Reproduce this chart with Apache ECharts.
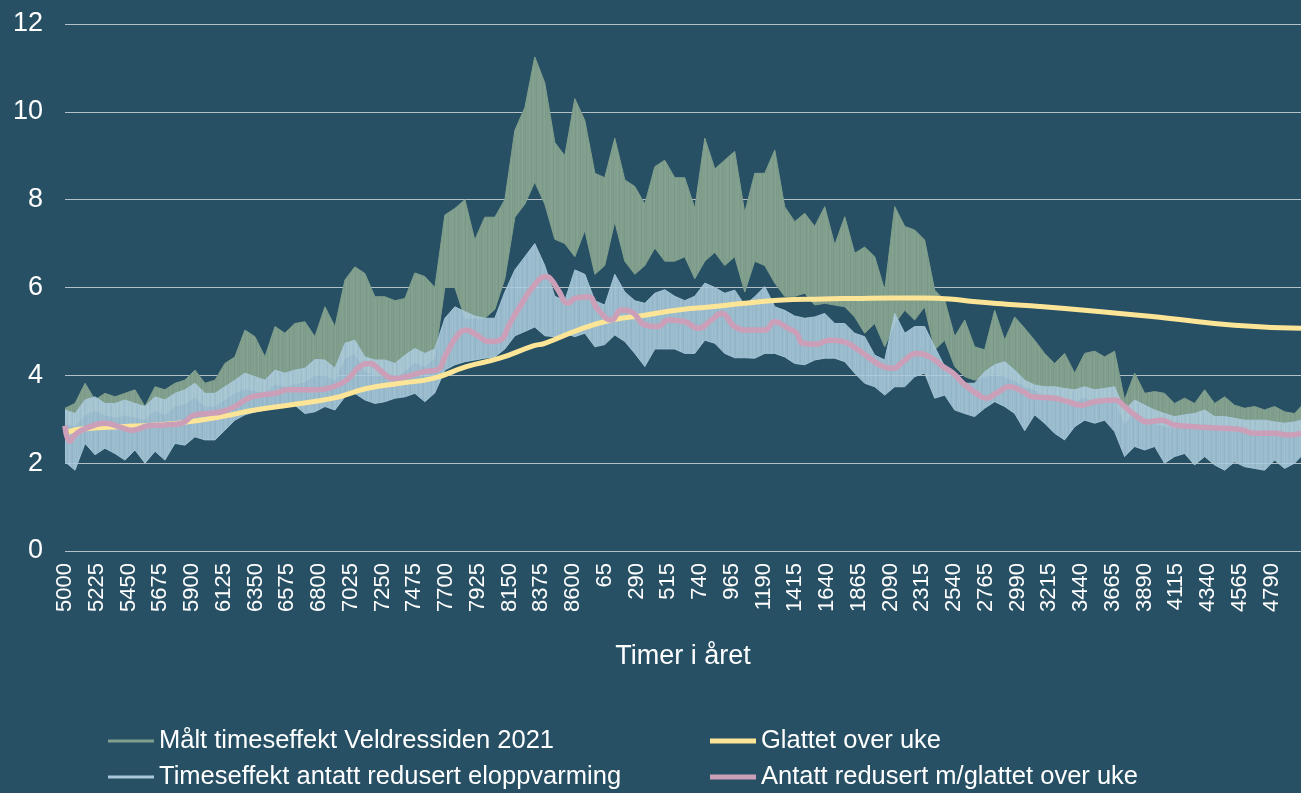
<!DOCTYPE html>
<html>
<head>
<meta charset="utf-8">
<script src="https://cdn.jsdelivr.net/npm/echarts@6/dist/echarts.min.js"></script>
<style>
  html,body{margin:0;padding:0;background:#275065;}
  #chart{width:1301px;height:793px;}
</style>
</head>
<body>
<div id="chart"></div>
<script>
// hour index since hour 5000 (wraps to 1 after 8760)
const HOURS = [0,71,142,213,283,354,425,496,567,638,708,779,850,921,992,1063,1133,1204,1275,1346,1417,1488,1558,1629,1700,
  1771,1842,1913,1984,2054,2125,2196,2267,2338,2409,2479,2550,
  2621,2692,2763,2834,2904,2975,3046,3117,3188,3259,3329,3400,3471,3542,3613,3684,3755,3825,3896,3967,4038,4109,4180,4250,4321,4392,4463,4534,4605,4675,4746,4817,4888,4959,5030,5100,5171,
  5242,5313,5384,5455,5526,5596,5667,5738,5809,5880,5951,6021,6092,6163,6234,6305,6376,6446,6517,6588,6659,6730,6801,6871,
  6942,7013,7084,7155,7226,7297,7367,7438,7509,7580,7651,7722,7792,7863,7934,8005,8076,8147,8218,8288,8359,8430,8501,8572,8643,8713,
  8759];

// measured (green) band, upper / lower edge
const greenHi = [3.25,3.36,3.82,3.44,3.59,3.51,3.59,3.67,3.29,3.74,3.67,3.82,3.89,4.12,3.82,3.89,4.27,4.42,5.03,4.88,4.42,5.11,4.96,5.18,5.22,
  4.88,5.56,5.11,6.17,6.47,6.32,5.79,5.79,5.7,5.75,6.33,6.25,
  6.0,7.65,7.8,8.0,7.08,7.6,7.6,8.0,9.58,10.1,11.25,10.66,9.3,9.0,10.3,9.8,8.6,8.5,9.4,8.45,8.3,7.9,8.75,8.9,8.5,8.5,7.8,9.4,8.7,8.9,9.1,7.7,8.6,8.6,9.13,7.84,7.5,
  7.69,7.39,7.84,6.97,7.61,6.78,6.92,6.7,5.94,7.84,7.39,7.31,7.08,5.94,5.71,4.88,5.26,4.65,4.58,5.48,4.8,5.33,5.07,4.8,
  4.5,4.27,4.5,4.05,4.5,4.55,4.42,4.55,3.44,4.05,3.59,3.63,3.59,3.36,3.48,3.36,3.67,3.36,3.51,3.32,3.25,3.29,3.21,3.29,3.17,3.13,
  3.29];
const greenLo = [2.9,2.85,3.1,3.2,3.1,3.05,3.1,3.05,3.0,3.2,3.1,3.3,3.35,3.5,3.3,3.3,3.45,3.6,3.7,3.65,3.6,3.8,3.75,3.8,3.85,
  4.0,4.0,3.9,4.4,4.5,4.1,4.0,4.0,3.95,4.1,4.3,4.2,
  4.4,6.0,6.0,5.3,5.3,5.3,5.5,6.2,7.6,7.9,8.4,7.9,7.1,7.0,6.7,7.3,6.3,6.5,7.5,6.6,6.3,6.5,6.9,6.6,6.6,6.7,6.2,6.6,6.8,6.5,6.7,5.9,6.6,6.5,6.1,5.8,5.8,
  5.87,5.6,5.64,5.6,5.56,5.33,4.96,5.18,4.65,5.18,5.48,5.26,5.56,4.58,4.8,4.2,3.97,3.89,3.97,4.05,3.97,3.89,3.74,3.67,
  3.5,3.5,3.45,3.4,3.5,3.4,3.45,3.5,2.9,3.2,3.0,2.9,2.85,2.8,2.85,2.85,2.9,2.8,2.8,2.75,2.7,2.7,2.7,2.65,2.6,2.65,
  2.7];

// reduced (light blue) band, upper / lower edge
const blueHi = [3.21,3.13,3.44,3.51,3.36,3.36,3.44,3.36,3.29,3.51,3.44,3.59,3.67,3.82,3.59,3.59,3.74,3.89,4.05,3.97,3.89,4.12,4.05,4.12,4.16,
  4.36,4.35,4.16,4.73,4.8,4.42,4.35,4.35,4.27,4.46,4.61,4.5,
  4.6,5.3,5.56,5.45,5.35,5.3,5.3,5.9,6.4,6.7,7.0,6.5,5.8,5.7,6.4,6.3,5.7,5.6,6.3,5.9,5.7,5.64,5.87,5.95,5.8,5.7,5.8,6.1,6.0,5.87,5.94,5.6,5.79,6.02,5.56,5.48,5.35,
  5.3,5.33,5.41,5.18,5.18,4.96,4.88,4.46,4.35,5.41,4.96,5.11,5.11,4.65,4.2,4.01,3.82,3.82,4.08,4.24,4.31,4.12,3.89,3.78,
  3.74,3.74,3.7,3.67,3.74,3.67,3.7,3.74,3.21,3.44,3.32,3.21,3.13,3.06,3.1,3.13,3.21,3.06,3.06,3.02,2.98,2.98,2.98,2.94,2.91,2.94,
  2.98];
const blueLo = [2.03,1.84,2.45,2.19,2.34,2.22,2.07,2.30,2.0,2.27,2.07,2.45,2.41,2.6,2.53,2.53,2.75,2.98,3.1,3.17,3.21,3.25,3.29,3.32,3.13,
  3.17,3.29,3.21,3.51,3.59,3.44,3.36,3.4,3.48,3.51,3.59,3.4,
  3.6,4.12,4.24,4.31,4.35,4.39,4.42,4.6,4.9,5.0,5.1,4.9,4.88,4.96,4.88,4.96,4.65,4.7,4.92,4.77,4.5,4.2,4.6,4.6,4.6,4.5,4.5,4.8,4.73,4.5,4.4,4.4,4.39,4.5,4.5,4.42,4.27,
  4.24,4.35,4.39,4.39,4.31,4.05,3.82,3.74,3.55,3.74,3.74,3.97,4.05,3.48,3.55,3.21,3.13,3.06,3.25,3.4,3.29,3.13,2.74,3.1,
  2.91,2.68,2.53,2.83,2.98,2.91,2.98,2.72,2.15,2.38,2.3,2.38,2.0,2.15,2.22,1.96,2.15,1.96,1.84,2.03,1.92,1.88,1.84,2.07,1.88,2.0,
  2.15];

// weekly smoothed lines
const yellowHours = [0,60,165,401,637,874,1110,1346,1582,1901,2137,2373,2609,2845,3081,3318,3400,3636,3873,4109,4345,4581,4817,5053,5372,5608,5844,6080,6269,6435,6671,6907,7344,7816,8288,8759];
const yellowVals  = [2.65,2.75,2.79,2.83,2.87,2.94,3.06,3.21,3.32,3.48,3.7,3.82,3.93,4.2,4.39,4.67,4.73,5.03,5.26,5.37,5.49,5.56,5.64,5.71,5.74,5.75,5.76,5.76,5.74,5.68,5.62,5.57,5.45,5.3,5.14,5.07];

const pinkHours = [0,35,71,118,213,283,401,472,590,708,827,921,1015,1110,1204,1299,1393,1488,1582,1665,1783,1901,1995,2090,2161,2231,2326,2420,2538,2633,2704,2775,2845,2916,3011,3081,3152,3223,3318,3412,3448,3495,3566,3613,3707,3778,3873,3943,4014,4109,4203,4274,4392,4487,4581,4652,4746,4841,4959,5030,5124,5183,5230,5325,5419,5514,5608,5703,5797,5868,5939,6033,6128,6222,6293,6364,6458,6529,6600,6694,6789,6860,7013,7108,7202,7297,7438,7509,7580,7674,7769,7863,8005,8099,8241,8336,8430,8572,8666,8759];
const pinkVals  = [2.85,2.5,2.64,2.75,2.87,2.91,2.81,2.75,2.85,2.87,2.91,3.1,3.13,3.17,3.29,3.48,3.55,3.59,3.67,3.67,3.67,3.74,3.89,4.2,4.27,4.12,3.93,3.97,4.08,4.12,4.5,4.88,5.03,4.92,4.77,4.8,5.18,5.56,6.02,6.25,6.17,5.94,5.64,5.75,5.79,5.49,5.26,5.49,5.45,5.15,5.11,5.26,5.22,5.07,5.26,5.41,5.11,5.03,5.03,5.22,5.07,4.96,4.73,4.71,4.8,4.77,4.61,4.39,4.2,4.16,4.31,4.5,4.42,4.2,4.05,3.82,3.59,3.48,3.59,3.74,3.63,3.51,3.48,3.4,3.32,3.4,3.44,3.29,3.1,2.94,2.98,2.87,2.83,2.81,2.79,2.76,2.68,2.68,2.64,2.68];

const NAMES = ["Målt timeseffekt Veldressiden 2021", "Timeseffekt antatt redusert eloppvarming",
               "Glattet over uke", "Antatt redusert m/glattet over uke"];
const GREEN = "#819f8d", BLUE = "#a9c9db", YELLOW = "#fde597", PINK = "#cc9fb9";
const FONT = "'Liberation Sans', Arial, sans-serif";

const pairs = (xs, ys) => xs.map((x,i)=>[x, ys[i]]);
const hourLabel = (v) => String(((5000 + v - 1) % 8760) + 1);

// faint vertical streaks, like the hourly trace drawn densely
function streaks(cols){
  const c = document.createElement("canvas");
  c.width = cols.length; c.height = 4;
  const g = c.getContext("2d");
  cols.forEach((col,i)=>{ g.fillStyle = col; g.fillRect(i,0,1,4); });
  return { image:c, repeat:"repeat" };
}
const greenFill = streaks(["#819f8d","#85a291","#819f8d","#7b9888","#819f8d","#86a492","#7e9b8a","#819f8d","#7c9989","#83a08f","#819f8d"]);
const blueFill  = streaks(["#aecddd","#a9c9db","#a3c4d7","#abcadc","#b3d0df","#adcbdc","#a6c6d9","#a1c2d6","#afcdde","#a9c9db","#b2cfdf","#a7c7da","#acccdc"]);

const chart = echarts.init(document.getElementById("chart"));

// filled band between two edges, placed through the grid's own scales
function band(name, lo, hi, color, fill, opacity){
  return {
    name, type:"custom", clip:true, itemStyle:{color},
    data: pairs(HOURS, hi),
    renderItem:(params, api)=>{
      if(params.dataIndex !== 0) return null;
      const top = HOURS.map((h,i)=>api.coord([h, hi[i]]));
      const bot = HOURS.map((h,i)=>api.coord([h, lo[i]])).reverse();
      return { type:"polygon", shape:{points: top.concat(bot)},
               style:{fill, stroke:color, lineWidth:1, opacity} };
    }
  };
}

const legendAt = (left, top, name, color, h) => ({
  left, top, padding:0, itemWidth:46, itemHeight:h, icon:"rect",
  textStyle:{color:"#fff", fontSize:25.5, fontFamily:FONT},
  data:[{name, itemStyle:{color, borderWidth:0}}]
});

chart.setOption({
  backgroundColor:"#275065",
  animation:false,
  grid:{left:65, right:0, top:24, bottom:242},
  legend:[
    legendAt(108, 728, NAMES[0], GREEN, 3),
    legendAt(108, 764, NAMES[1], BLUE, 3),
    legendAt(710, 728, NAMES[2], YELLOW, 5),
    legendAt(710, 764, NAMES[3], PINK, 5)
  ],
  xAxis:{
    type:"value", min:0, max:8759, interval:225,
    axisLine:{show:false}, axisTick:{show:false}, splitLine:{show:false},
    axisLabel:{rotate:90, color:"#fff", fontSize:22, fontFamily:FONT, margin:12,
               showMaxLabel:false, formatter:hourLabel},
    name:"Timer i året", nameLocation:"middle", nameGap:92,
    nameTextStyle:{color:"#fff", fontSize:27, fontFamily:FONT}
  },
  yAxis:{
    type:"value", min:0, max:12, interval:2,
    axisLine:{show:false}, axisTick:{show:false},
    splitLine:{lineStyle:{color:"#b3c0c8", width:1}},
    axisLabel:{color:"#fff", fontSize:27, fontFamily:FONT, margin:22}
  },
  series:[
    band(NAMES[0], greenLo, greenHi, GREEN, greenFill, 1),
    { name:NAMES[2], type:"line", data:pairs(yellowHours, yellowVals), smooth:true, symbol:"none",
      lineStyle:{width:5, color:YELLOW}, itemStyle:{color:YELLOW} },
    band(NAMES[1], blueLo, blueHi, BLUE, blueFill, 0.88),
    { name:NAMES[3], type:"line", data:pairs(pinkHours, pinkVals), smooth:true, symbol:"none",
      lineStyle:{width:5.5, color:PINK}, itemStyle:{color:PINK} }
  ]
});
</script>
</body>
</html>
